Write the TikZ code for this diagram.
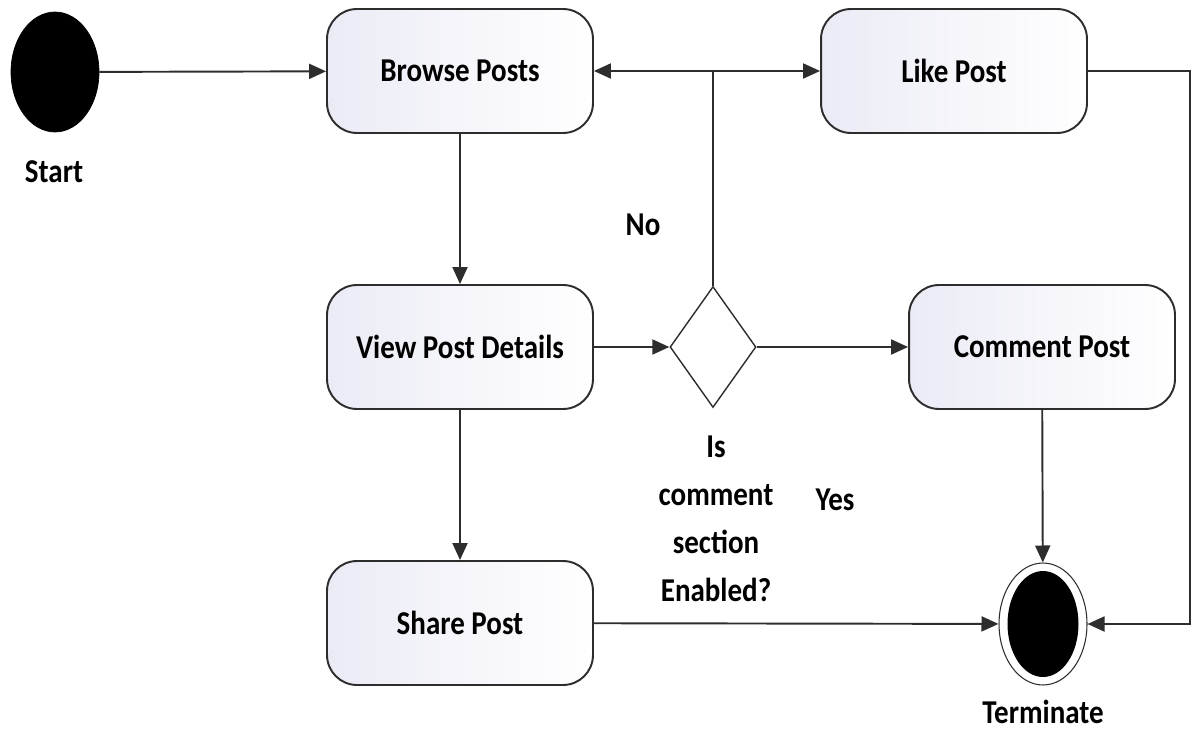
\documentclass[tikz,border=0pt]{standalone}
\usepackage{fontspec}
\setmainfont{Carlito}
\usepackage{graphicx}
\usetikzlibrary{shapes.geometric,arrows.meta}
\tikzset{>={Triangle[length=0.34cm,width=0.3cm]}}
\definecolor{boxfill}{RGB}{235,235,246}
\definecolor{linegray}{RGB}{45,45,45}
\newcommand{\stretchtxt}[1]{\scalebox{1}[1.15]{#1}}

\begin{document}
\begin{tikzpicture}[
    x=0.02cm, y=-0.02cm,
    font=\fontsize{16.5}{23.7}\selectfont\bfseries,
    action/.style={rectangle, rounded corners=0.6cm, draw=linegray, line width=1.1pt,
        left color=boxfill, right color=white,
        minimum width=5.32cm, minimum height=2.48cm, inner sep=0pt},
    decision/.style={diamond, draw=linegray, line width=0.8pt, fill=white,
        minimum width=1.72cm, minimum height=2.42cm, inner sep=0pt},
    startdot/.style={ellipse, fill=black, draw=black,
        minimum width=1.76cm, minimum height=2.4cm, inner sep=0pt},
    flow/.style={draw=linegray, line width=1.1pt}
]
\useasboundingbox (0,0) rectangle (1196,740);

\node[startdot] (start) at (55,72) {};
\node (startlbl) at (54,172) {\stretchtxt{Start}};

\node[action] (browse) at (460,71) {\stretchtxt{Browse Posts}};
\node[action] (like) at (954,71) {\stretchtxt{Like Post}};
\node[action] (view) at (460,347) {\stretchtxt{View Post Details}};
\node[decision] (dec) at (713,347) {};
\node[action] (comment) at (1042,347) {\stretchtxt{Comment Post}};
\node[action] (share) at (460,623) {\stretchtxt{Share Post}};

\node[ellipse, draw=linegray, line width=0.6pt, fill=white,
    minimum width=1.76cm, minimum height=2.44cm, inner sep=0pt] (term) at (1043,624) {};
\node[ellipse, fill=black, minimum width=1.42cm, minimum height=2.12cm,
    inner sep=0pt] (termdot) at (term) {};
\node (termlbl) at (1043,712) {\stretchtxt{Terminate}};

\node (declbl) at (716,520) {\stretchtxt{\begin{tabular}{@{}c@{}}Is\\comment\\section\\Enabled?\end{tabular}}};
\node (no) at (643,225) {\stretchtxt{No}};
\node (yes) at (835,500) {\stretchtxt{Yes}};

\coordinate (fork) at (dec.north |- browse.east);
\coordinate (rightturn) at (1190,71);

\draw[flow, ->] (start) -- (browse);
\draw[flow, ->] (browse) -- (view);
\draw[flow, ->] (view) -- (dec);
\draw[flow, ->] (dec) -- (comment);
\draw[flow] (dec.north) -- (fork);
\draw[flow, ->] (fork) -- (browse.east);
\draw[flow, ->] (fork) -- (like.west);
\draw[flow, ->] (like.east) -- (rightturn) |- (term.east);
\draw[flow, ->] (comment) -- (term);
\draw[flow, ->] (view) -- (share);
\draw[flow, ->] (share) -- (term);
\end{tikzpicture}
\end{document}
